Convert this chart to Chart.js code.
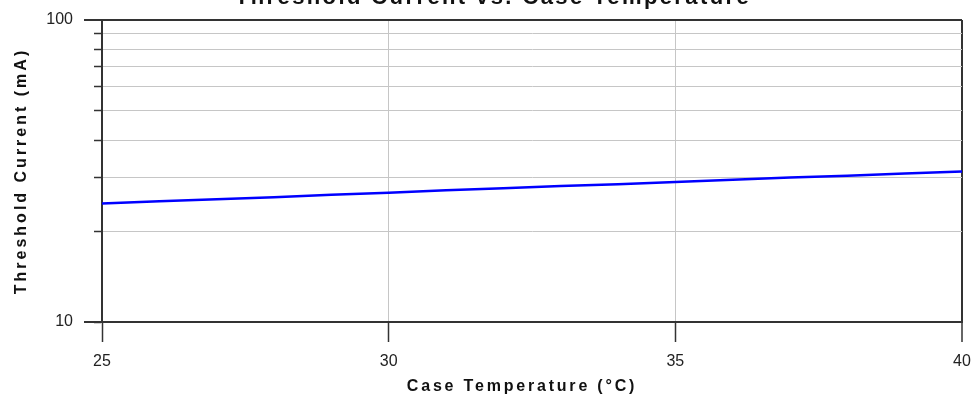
<!DOCTYPE html>
<html><head><meta charset="utf-8">
<script src="https://cdn.jsdelivr.net/npm/chart.js@4"></script>
<style>html,body{margin:0;padding:0;background:#fff;overflow:hidden}#wrap{position:absolute;left:0;top:0;width:974px;height:406px}</style>
</head><body><div id="wrap"><canvas id="c" width="974" height="406"></canvas></div>
<script>
const chartTitle = 'Threshold Current vs. Case Temperature';
const xTitle = 'Case Temperature (°C)';
const yTitle = 'Threshold Current (mA)';
const temperatures = [25, 26, 27, 28, 29, 30, 31, 32, 33, 34, 35, 36, 37, 38, 39, 40];
const thresholdCurrent = [24.7, 25.1, 25.5, 25.9, 26.4, 26.8, 27.3, 27.7, 28.2, 28.6, 29.1, 29.6, 30.1, 30.5, 31.0, 31.5];
const xTicks = [25, 30, 35, 40];
const yGridTicks = [10, 20, 30, 40, 50, 60, 70, 80, 90, 100];
const yLabelTicks = [10, 100];

Chart.defaults.font.family = "'Liberation Sans', Arial, sans-serif";
const DARK = '#333333', GRID = '#c6c6c6';

const spacingPlugin = {
  id: 'spacing',
  afterLayout(chart) {
    const wrap = (obj, name, sp, dx) => {
      if (!obj || obj['__w' + name]) return;
      const orig = obj[name];
      obj[name] = function (...a) {
        const ctx = this.ctx; ctx.save(); ctx.letterSpacing = sp; ctx.translate(dx, 0); orig.apply(this, a); ctx.restore();
      };
      obj['__w' + name] = true;
    };
    wrap(chart.titleBlock, 'draw', '2.4px', 12);
    wrap(chart.scales.x, 'drawTitle', '2.8px', -10);
    wrap(chart.scales.y, 'drawTitle', '3px', 0);
  },
  afterDraw(chart) {
    const ctx = chart.ctx, y = chart.scales.y, a = chart.chartArea;
    ctx.save();
    ctx.strokeStyle = DARK; ctx.lineWidth = 2;
    yLabelTicks.forEach(v => {
      const py = Math.round(y.getPixelForValue(v));
      ctx.beginPath(); ctx.moveTo(a.left - 18, py); ctx.lineTo(a.left, py); ctx.stroke();
    });
    ctx.restore();
  }
};

new Chart(document.getElementById('c'), {
  type: 'line',
  data: {
    datasets: [{
      data: temperatures.map((t, i) => ({ x: t, y: thresholdCurrent[i] })),
      borderColor: '#0000ff', borderWidth: 2.5, pointRadius: 0, tension: 0, fill: false
    }]
  },
  options: {
    responsive: false, animation: false, devicePixelRatio: 1,
    layout: { padding: { left: 0, right: 12, top: 0, bottom: 0 } },
    plugins: {
      legend: { display: false }, tooltip: { enabled: false },
      title: {
        display: true, text: chartTitle, color: '#111',
        font: { size: 22, weight: 'bold', lineHeight: 1.2 },
        padding: { top: -15, bottom: 8.6 }
      }
    },
    scales: {
      x: {
        type: 'linear', min: 25, max: 40,
        afterBuildTicks: s => { s.ticks = xTicks.map(v => ({ value: v })); },
        afterFit: s => { s.height = 84; s.paddingLeft = 0; s.paddingRight = 0; },
        ticks: { font: { size: 16 }, color: '#222', padding: 10, autoSkip: false, maxRotation: 0 },
        grid: {
          color: c => c.tick && c.tick.value === 40 ? DARK : (c.tick && c.tick.value === 25 ? 'rgba(0,0,0,0)' : GRID),
          lineWidth: c => c.tick && c.tick.value === 40 ? 2 : 1,
          tickColor: DARK, tickLength: 20, tickWidth: 1.5
        },
        border: { display: true, color: DARK, width: 2 },
        title: { display: true, text: xTitle, color: '#111', font: { size: 16, weight: 'bold', lineHeight: 1.2 }, padding: { top: 0, bottom: 10 } }
      },
      y: {
        type: 'logarithmic', min: 10, max: 100,
        afterBuildTicks: s => { s.ticks = yGridTicks.map(v => ({ value: v })); },
        afterFit: s => { s.width = 102; s.paddingTop = 0; s.paddingBottom = 0; },
        ticks: {
          font: { size: 16 }, color: '#222', padding: 21, autoSkip: false,
          callback: v => yLabelTicks.includes(v) ? String(v) : ''
        },
        grid: {
          color: c => c.tick && c.tick.value === 100 ? DARK : (c.tick && c.tick.value === 10 ? 'rgba(0,0,0,0)' : GRID),
          lineWidth: c => c.tick && c.tick.value === 100 ? 2 : 1,
          tickColor: DARK, tickLength: 8, tickWidth: 1.5
        },
        border: { display: true, color: DARK, width: 2 },
        title: { display: true, text: yTitle, color: '#111', font: { size: 16, weight: 'bold', lineHeight: 1.2 }, padding: { top: 12, bottom: 0 } }
      }
    }
  },
  plugins: [spacingPlugin]
});
</script></body></html>
